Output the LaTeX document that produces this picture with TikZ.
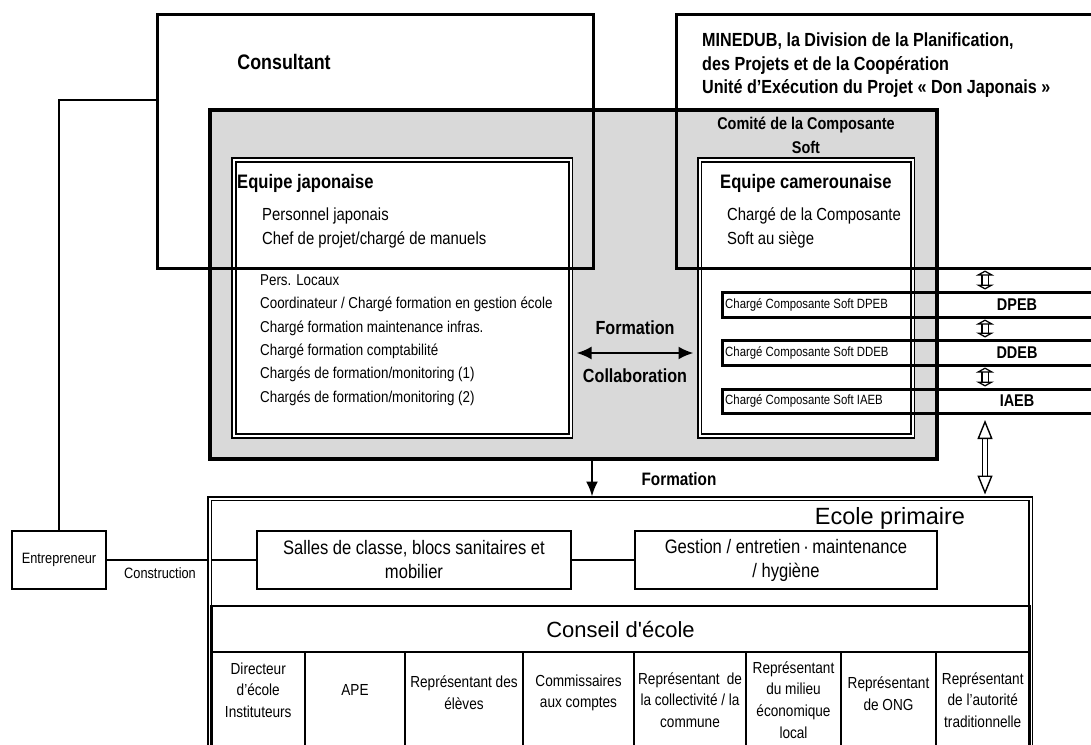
\documentclass[tikz,border=0pt]{standalone}
\usepackage{fontspec}
\setmainfont{Liberation Sans}[FakeStretch=0.85]
\newfontfamily\widefont{Liberation Sans}
\usetikzlibrary{arrows.meta,positioning,calc}
\definecolor{panelgray}{HTML}{D9D9D9}

\begin{document}
\begin{tikzpicture}[
    x=1pt, y=-1pt,
    frame/.style={draw, line width=3pt, inner sep=0pt, outer sep=0pt, anchor=north west},
    panel/.style={draw, line width=4.2pt, fill=panelgray, inner sep=0pt, outer sep=0pt, anchor=north west},
    dbox/.style={draw, double, line width=1.6pt, double distance=2pt, inner sep=0pt, outer sep=0pt, anchor=north west},
    unitrow/.style={draw, line width=3pt, inner sep=0pt, outer sep=0pt, anchor=north west},
    sbox/.style={draw, line width=2.6pt, inner sep=0pt, outer sep=0pt, align=center, font=\fontsize{19.5}{24}\selectfont},
    cell/.style={draw, line width=2.6pt, inner sep=0pt, outer sep=0pt, anchor=north west, minimum height=100pt},
    lbl/.style={inner sep=0pt, align=left},
    link/.style={line width=2.6pt},
    arrow/.style={-{Latex[length=15pt,width=12pt]}, line width=2.2pt},
    biarrow/.style={{Latex[length=15pt,width=13pt]}-{Latex[length=15pt,width=13pt]}, line width=2.4pt},
    hollow/.style={double, line width=1.4pt, double distance=5pt,
        {Triangle[open,fill=white,line width=1.4pt,length=5pt,width=18pt]}-{Triangle[open,fill=white,line width=1.4pt,length=5pt,width=18pt]}},
    bighollow/.style={double, line width=1.4pt, double distance=4pt,
        {Triangle[open,fill=white,line width=1.4pt,length=19pt,width=15pt]}-{Triangle[open,fill=white,line width=1.4pt,length=19pt,width=15pt]}}
]
\useasboundingbox (0,0) rectangle (1091,744);
\coordinate (ly) at (0,100);
\coordinate (fy) at (0,353);
\coordinate (fx) at (592,0);
\coordinate (ax) at (985,0);
\coordinate (dx) at (1017,0);

% comite and the two teams
\node[panel, minimum width=727pt, minimum height=349pt] (comite) at (210,110) {};
\node[dbox, fill=white, minimum width=336.5pt, minimum height=276pt] (jp) at (234,160) {};
\node[dbox, fill=white, minimum width=213pt, minimum height=276pt] (cm) at (699.5,160) {};
\node[frame, minimum width=436pt, minimum height=254pt] (cons) at (157,14) {};
\node[frame, minimum width=424pt, minimum height=254pt] (mined) at (676,14) {};

% regional units
\node[unitrow, minimum width=378pt, minimum height=25pt] (dpeb) at (722,292) {};
\node[unitrow, minimum width=378pt, minimum height=25pt] (ddeb) at (722,340) {};
\node[unitrow, minimum width=378pt, minimum height=24pt] (iaeb) at (722,389) {};

% school
\node[sbox, minimum width=94pt, minimum height=58pt, font=\fontsize{15}{18}\selectfont] (entr) at (59,560) {Entrepreneur};
\node[sbox, minimum width=314pt, minimum height=58pt] (salles) at (414,560) {Salles de classe, blocs sanitaires et\\mobilier};
\node[sbox, minimum width=302pt, minimum height=58pt] (gestion) at (786,560) {Gestion / entretien\,·\,maintenance\\/ hygiène};
\draw[link] (entr.east) -- (salles.west);
\draw[link] (salles.east) -- (gestion.west);
\draw[link] (entr.north) |- (cons.west |- ly);
\node[dbox, minimum width=821pt, minimum height=262pt] (school) at (209.5,498.5) {};
\node[cell, minimum width=818pt, minimum height=46pt, font=\widefont\fontsize{22}{26}\selectfont] (conseil) at (211.5,606) {Conseil d'école};
\foreach \xa/\xb/\ty/\txt [count=\i] in {
    211.5/305/690/{Directeur\\d'école\\Instituteurs},
    305/405/690/{APE},
    405/523/693/{Représentant des\\élèves},
    523/634/693/{Commissaires\\aux comptes},
    634/746/700/{Représentant\hspace{7pt}de\\la collectivité / la\\commune},
    746/841/700/{Représentant\\du milieu\\économique\\local},
    841/936/694/{Représentant\\de ONG},
    936/1029.5/700/{Représentant\\de l'autorité\\traditionnelle}} {
  \pgfmathsetmacro{\cw}{\xb-\xa}
  \pgfmathsetmacro{\cx}{(\xa+\xb)/2}
  \node[cell, minimum width=\cw pt] (cell\i) at (\xa,652) {};
  \node[lbl, align=center, font=\fontsize{16}{21.7}\selectfont] (celltxt\i) at (\cx,\ty) {\txt};
}

% labels
\node[lbl, font=\fontsize{21}{25}\selectfont\bfseries] (constxt) at (284,62) {Consultant};
\node[lbl, anchor=west, font=\fontsize{19}{23.5}\selectfont\bfseries] (minedtxt) at (702,65.5)
    {MINEDUB, la Division de la Planification,\\des Projets et de la Coopération\\Unité d’Exécution du Projet « Don Japonais »};
\node[lbl, align=center, font=\fontsize{17}{24}\selectfont\bfseries] (comitetxt) at (806,135) {Comité de la Composante\\Soft};
\node[lbl, anchor=west, font=\fontsize{19.5}{24}\selectfont\bfseries] (jptitle) at (237,183) {Equipe japonaise};
\node[lbl, anchor=west, font=\fontsize{17.5}{24}\selectfont] (jpstaff) at (262,228) {Personnel japonais\\Chef de projet/chargé de manuels};
\node[lbl, anchor=west, font=\fontsize{15.7}{23.3}\selectfont] (jplocal) at (260,340)
    {Pers. Locaux\\Coordinateur / Chargé formation en gestion école\\Chargé formation maintenance infras.\\Chargé formation comptabilité\\Chargés de formation/monitoring (1)\\Chargés de formation/monitoring (2)};
\node[lbl, anchor=west, font=\fontsize{19.5}{24}\selectfont\bfseries] (cmtitle) at (720,183) {Equipe camerounaise};
\node[lbl, anchor=west, font=\fontsize{17.5}{24}\selectfont] (cmstaff) at (727,228) {Chargé de la Composante\\Soft au siège};
\foreach \r/\name in {dpeb/DPEB, ddeb/DDEB, iaeb/IAEB} {
  \node[lbl, anchor=west, font=\fontsize{13.4}{16}\selectfont] (\r-chg) at ([xshift=3pt]\r.west) {Chargé Composante Soft \name};
  \node[lbl, font=\fontsize{17}{20}\selectfont\bfseries] (\r-txt) at (\r.center -| dx) {\name};
}
\node[lbl, font=\fontsize{19}{23}\selectfont\bfseries] (formtxt) at (635,328) {Formation};
\node[lbl, font=\fontsize{19}{23}\selectfont\bfseries] (collabtxt) at (635,376) {Collaboration};
\node[lbl, font=\fontsize{18}{22}\selectfont\bfseries] (form2txt) at (679,479) {Formation};
\node[lbl, font=\widefont\fontsize{23.5}{28}\selectfont] (ecoletxt) at (890,518) {Ecole primaire};
\node[lbl, font=\fontsize{15}{18}\selectfont] (constr) at (160,573) {Construction};

% arrows
\draw[biarrow, shorten <=6pt, shorten >=6pt] (jp.east |- fy) -- (cm.west |- fy);
\draw[arrow, shorten >=2pt] (comite.south -| fx) -- (school.north -| fx);
\draw[hollow, shorten <=2.5pt, shorten >=2.5pt] (mined.south -| ax) -- (dpeb.north -| ax);
\draw[hollow, shorten <=2.5pt, shorten >=2.5pt] (dpeb.south -| ax) -- (ddeb.north -| ax);
\draw[hollow, shorten <=2.5pt, shorten >=2.5pt] (ddeb.south -| ax) -- (iaeb.north -| ax);
\draw[bighollow, shorten <=7pt, shorten >=4pt] (iaeb.south -| ax) -- (school.north -| ax);
\end{tikzpicture}
\end{document}
